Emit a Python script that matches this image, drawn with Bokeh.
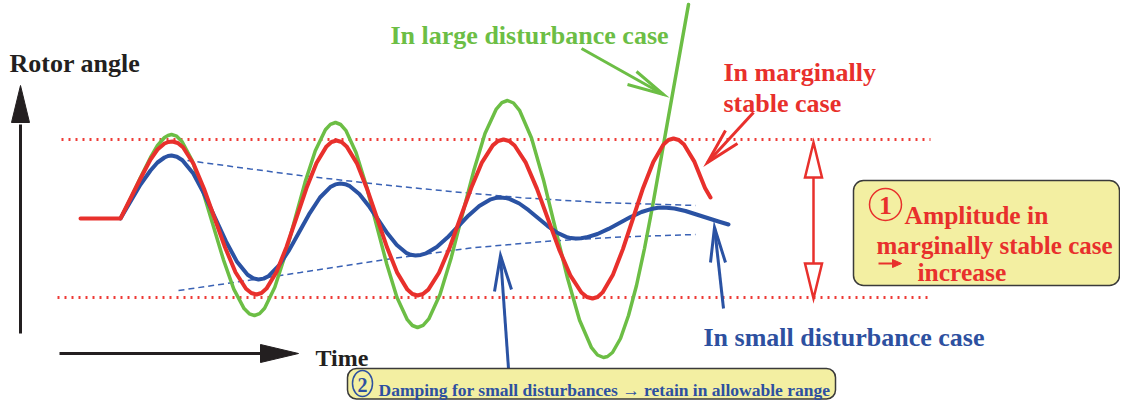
from bokeh.plotting import figure
from bokeh.models import Range1d
from bokeh.core.properties import value
from bokeh.embed import file_html
from bokeh.resources import INLINE

# ---------------- data (x = time, y = rotor angle, screen-down) ----------------
red_x = [80, 120, 130, 140, 150, 157, 164, 168, 172,
         177.25, 182.5, 193, 203.5, 214, 224.5, 235, 245.5, 250.75, 256,
         261, 266, 276, 286, 296, 306, 316, 326, 331, 336,
         341.1, 346.1, 356.3, 366.4, 376.5, 386.6, 396.8, 406.9, 411.9, 417,
         422.4, 427.8, 438.5, 449.3, 460, 470.8, 481.5, 492.3, 497.6, 503,
         508.6, 514.1, 525.3, 536.4, 547.5, 558.6, 569.8, 580.9, 586.4, 592,
         597.1, 602.1, 612.3, 622.4, 632.5, 642.6, 652.8, 662.9, 667.9, 673,
         678.25, 683.5, 694, 704.5, 710]
red_y = [218, 218, 198, 178, 159, 149, 143, 141.5, 141,
         142.5, 146.8, 163.3, 188.3, 217.5, 246.7, 271.7, 288.2, 292.5, 294,
         292.5, 288.1, 271.5, 246.4, 217, 187.6, 162.5, 145.9, 141.5, 140,
         141.5, 145.9, 162.6, 187.9, 217.5, 247.1, 272.4, 289.1, 293.5, 295,
         293.5, 289.1, 272.2, 246.8, 217, 187.2, 161.8, 144.9, 140.5, 139,
         140.5, 145, 162.2, 188.1, 218.5, 248.9, 274.8, 292, 296.5, 298,
         296.5, 291.9, 274.6, 248.6, 218, 187.4, 161.4, 144.1, 139.5, 138,
         139.5, 144, 161.4, 187.4, 197]

green_x = [120, 130, 140, 150, 157, 164, 167.5, 171,
           176.2, 181.4, 191.8, 202.1, 212.5, 222.9, 233.3, 243.6, 248.8, 254,
           259.1, 264.1, 274.3, 284.4, 294.5, 304.6, 314.8, 324.9, 329.9, 335,
           340.1, 345.3, 355.5, 365.8, 376, 386.3, 396.5, 406.8, 411.9, 417,
           422.6, 428.3, 439.5, 450.8, 462, 473.3, 484.5, 495.8, 501.4, 507,
           513, 519, 531, 543, 555, 567, 579, 591, 597, 603,
           607, 612, 620, 628, 636, 644, 652, 660, 668, 678, 688]
green_y = [218, 198, 177, 157, 145, 137, 135, 134,
           135.7, 140.9, 160.4, 189.9, 224.5, 259.1, 288.6, 308.1, 313.3, 315,
           313.1, 307.7, 286.8, 255.4, 218.5, 181.6, 150.2, 129.3, 123.9, 122,
           124, 129.8, 151.9, 185.3, 224.5, 263.7, 297.1, 319.2, 325, 327,
           324.8, 318.4, 293.9, 256.9, 213.5, 170.1, 133.1, 108.6, 102.2, 100,
           102.5, 109.8, 137.5, 179.4, 228.5, 277.6, 319.5, 347.2, 354.5, 357,
           356, 352, 338, 315, 285, 248, 206, 161, 116, 60, 4]

blue_x = [120, 130, 140, 150, 157, 164, 167.5, 171,
          176.4, 181.9, 192.8, 203.6, 214.5, 225.4, 236.3, 247.1, 252.6, 258,
          263.1, 268.3, 278.5, 288.8, 299, 309.3, 319.5, 329.8, 334.9, 340,
          344.7, 349.4, 358.8, 368.1, 377.5, 386.9, 396.3, 405.6, 410.3, 415,
          420.3, 425.6, 436.3, 446.9, 457.5, 468.1, 478.8, 489.4, 494.7, 500,
          504.7, 509.4, 518.8, 528.1, 537.5, 546.9, 556.3, 565.6, 570.3, 575,
          580.5, 586, 597, 608, 619, 630, 641, 652, 657.5, 663,
          674, 685, 696, 707, 718, 728]
blue_y = [218, 201, 184, 170, 162, 157, 155.5, 155,
          156.2, 159.7, 173.1, 193.3, 217, 240.7, 260.9, 274.3, 277.8, 279,
          278.1, 275.4, 265, 249.4, 231, 212.6, 197, 186.6, 183.9, 183,
          183.7, 185.7, 193.5, 205.2, 219, 232.8, 244.5, 252.3, 254.3, 255,
          254.4, 252.8, 246.5, 237.1, 226, 214.9, 205.5, 199.2, 197.6, 197,
          197.4, 198.6, 203, 209.7, 217.5, 225.3, 232, 236.4, 237.6, 238,
          237.7, 236.8, 233.5, 228.4, 222.5, 216.6, 211.5, 208.2, 207.3, 207,
          208, 210.5, 214, 217.5, 221, 224]

env_upper_x = [187, 250, 300, 375, 450, 525, 600, 695]
env_upper_y = [160, 168.5, 175, 183.5, 191, 197.5, 202, 205]
env_lower_x = [178, 240, 300, 385, 470, 550, 620, 695]
env_lower_y = [290, 281, 272, 259, 247.5, 240.5, 236.5, 234]

limit_upper = 139
limit_lower = 297

assert len(red_x) == len(red_y)
assert len(green_x) == len(green_y)
assert len(blue_x) == len(blue_y)

# ---------------- styles ----------------
RED = "#E8302C"
GREEN = "#6CBE45"
BLUE = "#2A52A3"
BLUE_T = "#2D50A0"
BLACK = "#231F20"
BOX_FILL = "#F3EFA2"
BOX_LINE = "#3A3A3A"
FONT = value("Liberation Serif")

p = figure(width=1120, height=400, x_range=Range1d(0, 1120), y_range=Range1d(400, 0),
           x_axis_type=None, y_axis_type=None, output_backend="svg", toolbar_location=None,
           min_border=0, min_border_left=0, min_border_right=0, min_border_top=0, min_border_bottom=0)
p.grid.visible = False
p.outline_line_color = None
p.background_fill_color = "white"
p.border_fill_color = "white"

# allowable range (dotted)
p.line([61, 930], [limit_upper, limit_upper], line_color="#EE3B36", line_width=3, line_dash="2 5")
p.line([57, 930], [limit_lower, limit_lower], line_color="#EE3B36", line_width=3, line_dash="2 5")

# damping envelope (dashed)
p.line(env_upper_x, env_upper_y, line_color="#3A62B5", line_width=1.5, line_dash="6 4")
p.line(env_lower_x, env_lower_y, line_color="#3A62B5", line_width=1.5, line_dash="6 4")

# curves
p.line(green_x, green_y, line_color=GREEN, line_width=3.5, line_join="round", line_cap="round")
p.line(blue_x, blue_y, line_color=BLUE, line_width=4, line_join="round", line_cap="round")
p.line(red_x, red_y, line_color=RED, line_width=4, line_join="round", line_cap="round")

# axes arrows
p.segment(x0=[20, 59], y0=[333, 353], x1=[20, 262], y1=[124, 353], line_color=BLACK, line_width=3)
p.patches(xs=[[20, 11, 29], [298, 260, 260]], ys=[[85, 122, 122], [353, 344, 362]],
          fill_color=BLACK, line_color=BLACK, line_width=1)

# red double-headed hollow arrow
p.segment(x0=[813], y0=[177], x1=[813], y1=[263], line_color=RED, line_width=2.5)
p.patches(xs=[[813, 804.5, 821.5], [813, 804.5, 821.5]], ys=[[142, 177, 177], [298, 263, 263]],
          fill_color="white", line_color=RED, line_width=2.5, line_join="miter")

# open "V" pointer arrows
def vee(color, tail, tip, b1, b2):
    p.multi_line(xs=[[tail[0], tip[0]], [b1[0], tip[0], b2[0]]],
                 ys=[[tail[1], tip[1]], [b1[1], tip[1], b2[1]]],
                 line_color=color, line_width=3, line_join="miter", line_cap="butt")

vee(GREEN, (581, 48), (663, 94), (636, 71), (627, 84))
vee(RED, (753, 112), (707, 162), (725, 130), (737, 143))
vee(BLUE, (723, 308), (714, 227), (710, 262), (725, 262))
vee(BLUE, (508, 368), (500, 255), (494, 291), (511, 289))

# boxes
p.quad(left=[853], right=[1119], top=[180], bottom=[285], fill_color=BOX_FILL,
       line_color=BOX_LINE, line_width=1.5, border_radius=10)
p.quad(left=[347], right=[835], top=[368], bottom=[398.5], fill_color=BOX_FILL,
       line_color=BOX_LINE, line_width=1.5, border_radius=9)

# circled numbers
p.circle(x=[885], y=[204], radius=16, fill_color=None, line_color=RED, line_width=1.5)
p.ellipse(x=[362], y=[383], width=20, height=26, fill_color=None, line_color=BLUE_T, line_width=1.5)

# small arrow "→" before "increase"
p.segment(x0=[878], y0=[263], x1=[894], y1=[263], line_color=RED, line_width=2)
p.patches(xs=[[901, 892, 892]], ys=[[263, 259, 267]], fill_color=RED, line_color=RED, line_width=1)

def label(x, y, t, color, size, align="left", baseline="alphabetic", font=FONT, style="bold"):
    p.text(x=[x], y=[y], text=[t], text_color=color, text_font=font, text_font_style=style,
           text_font_size=size, text_align=align, text_baseline=baseline)

label(9, 63, "Rotor angle", BLACK, "26px")
label(315, 357, "Time", BLACK, "24px")
label(390, 35, "In large disturbance case", GREEN, "26px")
label(723, 72, "In marginally", RED, "26px")
label(723, 103, "stable case", RED, "26px")
label(703, 337, "In small disturbance case", BLUE_T, "26px")

label(885, 205, "1", RED, "26px", align="center", baseline="middle")
label(904, 215, "Amplitude in", RED, "25.5px")
label(876, 245, "marginally stable case", RED, "25px")
label(917, 272, "increase", RED, "25.5px")

label(362, 384, "2", BLUE_T, "20px", align="center", baseline="middle")
label(378, 389, "Damping for small disturbances  \u2192 retain in allowable range", BLUE_T, "17.5px")

open("out.html", "w").write(file_html(p, INLINE))
